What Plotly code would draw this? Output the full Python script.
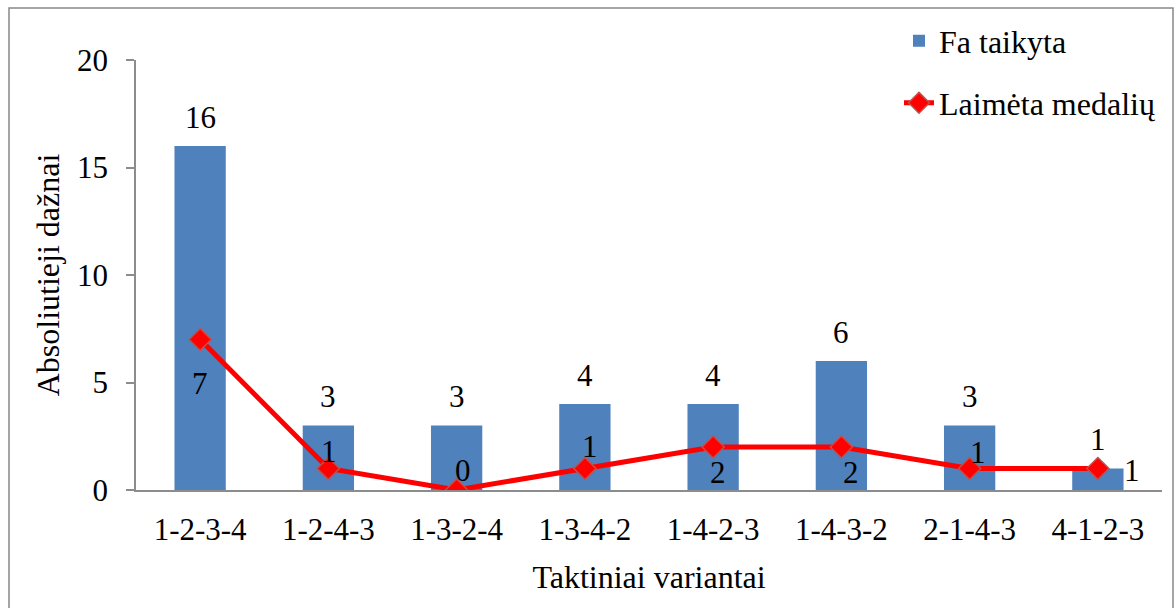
import plotly.graph_objects as go

categories = ["1-2-3-4", "1-2-4-3", "1-3-2-4", "1-3-4-2", "1-4-2-3", "1-4-3-2", "2-1-4-3", "4-1-2-3"]
applied = [16, 3, 3, 4, 4, 6, 3, 1]
medals = [7, 1, 0, 1, 2, 2, 1, 1]
bar_name = "Fa taikyta"
line_name = "Laimėta medalių"
y_ticks = [0, 5, 10, 15, 20]

# label offsets (pixels) for the line series labels, as placed in the reference
line_label_dx = [0, 1, 6, 5, 5, 10, 8, 34]
line_label_dy = [-44, 17, 20, 22, -25, -25, 16, -2]

FONT = "Liberation Serif"
FS = 31
FS_T = 32

L, R, T, B = 136, 13, 60, 118
W, H = 1175, 608
PW, PH = W - L - R, H - T - B

fig = go.Figure()
fig.add_trace(go.Bar(
    x=categories, y=applied, name=bar_name,
    marker=dict(color="#4F81BD", line=dict(width=0)),
    width=0.4, legend="legend",
))
fig.add_trace(go.Scatter(
    x=categories, y=medals, name=line_name, mode="lines+markers",
    line=dict(color="#FF0000", width=5),
    marker=dict(symbol="diamond", size=17, color="#FF0000", line=dict(color="#C0504D", width=1.5)),
    legend="legend2",
))

annotations = []
for c, v in zip(categories, applied):
    annotations.append(dict(x=c, y=v, text=str(v), showarrow=False, yanchor="middle",
                            yshift=29, font=dict(family=FONT, size=FS, color="black")))
for c, v, dx, dy in zip(categories, medals, line_label_dx, line_label_dy):
    annotations.append(dict(x=c, y=v, text=str(v), showarrow=False, yanchor="middle",
                            xshift=dx, yshift=dy, font=dict(family=FONT, size=FS, color="black")))

def px2x(p):
    return (p - L) / PW

def py2y(p):
    return (H - B - p) / PH

fig.update_layout(
    width=W, height=H,
    margin=dict(l=L, r=R, t=T, b=B, autoexpand=False),
    paper_bgcolor="white", plot_bgcolor="white",
    font=dict(family=FONT, size=FS, color="black"),
    showlegend=True,
    legend=dict(x=px2x(899), y=py2y(41), xanchor="left", yanchor="middle",
                bgcolor="rgba(0,0,0,0)", font=dict(family=FONT, size=FS_T)),
    legend2=dict(x=px2x(899), y=py2y(103), xanchor="left", yanchor="middle",
                 bgcolor="rgba(0,0,0,0)", font=dict(family=FONT, size=FS_T)),
    annotations=annotations,
    shapes=[dict(type="rect", xref="paper", yref="paper",
                 x0=px2x(9), x1=px2x(1173), y0=py2y(620), y1=py2y(8),
                 line=dict(color="#888888", width=1.5), fillcolor="rgba(0,0,0,0)", layer="below")],
    bargap=0.6,
)
fig.update_xaxes(
    type="category", range=[-0.5, 7.5], showline=True, linecolor="#8C8C8C", linewidth=1.5,
    showgrid=False, ticks="", ticklabelstandoff=11, zeroline=False,
    title=dict(text="Taktiniai variantai", font=dict(family=FONT, size=FS_T), standoff=20),
    tickfont=dict(family=FONT, size=FS),
)
fig.update_yaxes(
    range=[0, 20], tickvals=y_ticks, showline=True, linecolor="#8C8C8C", linewidth=1.5,
    showgrid=False, ticks="outside", ticklen=8, tickcolor="#8C8C8C", tickwidth=1.5,
    ticklabelstandoff=12, zeroline=False,
    title=dict(text="Absoliutieji dažnai", font=dict(family=FONT, size=FS_T), standoff=8),
    tickfont=dict(family=FONT, size=FS),
)

fig.write_html("out.html", config={"displayModeBar": False},
               post_script="document.body.style.margin='0';")
